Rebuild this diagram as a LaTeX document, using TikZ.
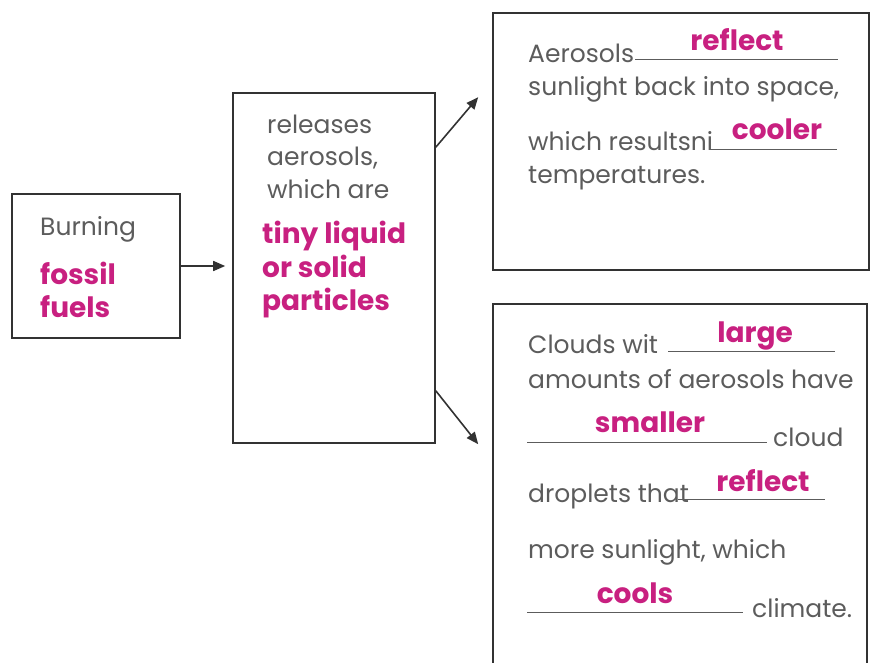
\documentclass[tikz,border=0pt]{standalone}
\usepackage{fontspec}
\setmainfont{Poppins}
\usetikzlibrary{arrows.meta}
\definecolor{txt}{RGB}{92,92,92}
\definecolor{pinkw}{RGB}{200,32,128}
\definecolor{edge}{RGB}{50,50,50}
\begin{document}
\begin{tikzpicture}[x=1pt,y=-1pt,
  box/.style={draw=edge,line width=1.6pt,rectangle,inner sep=0pt},
  t/.style={anchor=base west,inner sep=0pt,text=txt,font=\fontsize{25}{28}\selectfont},
  pc/.style={anchor=base,inner sep=0pt,text=pinkw,font=\fontsize{28}{30}\selectfont\bfseries},
  pl/.style={anchor=base west,inner sep=0pt,text=pinkw,font=\fontsize{28}{30}\selectfont\bfseries},
  blank/.style={draw=txt,line width=1pt},
  arr/.style={draw=edge,line width=1.6pt,-{Triangle[length=12pt,width=10pt]}}]
\useasboundingbox (0,0) rectangle (872,662);
\clip (0,0) rectangle (872,662);

% boxes
\node[box,minimum width=168pt,minimum height=144pt] (b1) at (96,266) {};
\node[box,minimum width=202pt,minimum height=350pt] (b2) at (334,268) {};
\node[box,minimum width=376pt,minimum height=257pt] (b3) at (681,141.5) {};
\node[box,minimum width=374pt,minimum height=400pt] (b4) at (680,504) {};

% connectors
\draw[arr] (b1.east) -- ([xshift=-7pt]b2.west |- b1.east);
\draw[arr] ([yshift=-55pt]b2.north east) -- ([xshift=-14pt,yshift=-85pt]b3.north west);
\draw[arr] ([yshift=53pt]b2.south east) -- ([xshift=-14pt,yshift=-141pt]b4.north west);

% box 1
\node[t] (l1a) at (40,235) {Burning};
\node[pl] (l1b) at (40,284) {fossil};
\node[pl] (l1c) at (40,317) {fuels};

% box 2
\node[t] (l2a) at (267,133) {releases};
\node[t] (l2b) at (267,165) {aerosols,};
\node[t] (l2c) at (267,198) {which are};
\node[pl] (l2d) at (262,243) {tiny liquid};
\node[pl] (l2e) at (262,277) {or solid};
\node[pl] (l2f) at (262,310) {particles};

% box 3
\node[t] (l3a) at (528,62) {Aerosols};
\draw[blank] (635,59) -- (838,59);
\node[pc] (l3b) at (737,50) {reflect};
\node[t] (l3c) at (528,95) {sunlight back into space,};
\node[t] (l3d) at (528,150) {which resultsni};
\draw[blank] (710,149) -- (837,149);
\node[pc] (l3e) at (777,139) {cooler};
\node[t] (l3f) at (528,183) {temperatures.};

% box 4
\node[t] (l4a) at (528,353) {Clouds wit};
\draw[blank] (668,351) -- (835,351);
\node[pc] (l4b) at (755,342) {large};
\node[t] (l4c) at (528,388) {amounts of aerosols have};
\draw[blank] (527,442) -- (767,442);
\node[pc] (l4d) at (650,432) {smaller};
\node[t] (l4e) at (773,446) {cloud};
\node[t] (l4f) at (528,502) {droplets that};
\draw[blank] (678,499) -- (825,499);
\node[pc] (l4g) at (763,491) {reflect};
\node[t] (l4h) at (528,558) {more sunlight, which};
\draw[blank] (527,612) -- (743,612);
\node[pc] (l4i) at (635,603) {cools};
\node[t] (l4j) at (752,617) {climate.};
\end{tikzpicture}
\end{document}
